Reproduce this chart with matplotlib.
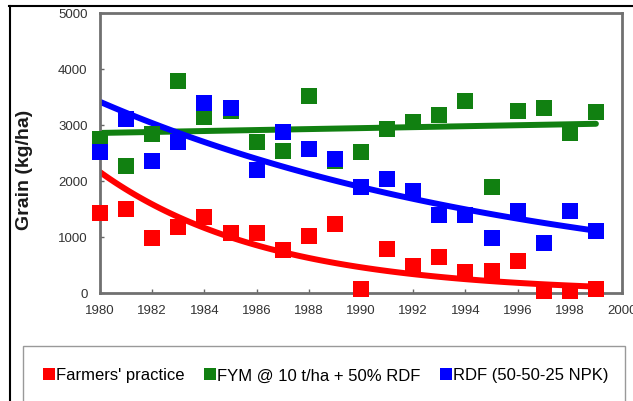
import numpy as np
import matplotlib
matplotlib.use('Agg')
import matplotlib.pyplot as plt
from matplotlib.lines import Line2D
from matplotlib.patches import Rectangle

plt.rcParams['font.family'] = ['Liberation Sans', 'DejaVu Sans']

years = np.arange(1980, 2000)
farmers = [1420, 1500, 990, 1170, 1350, 1080, 1080, 760, 1020, 1240,
           80, 790, 490, 640, 370, 400, 580, 40, 40, 80]
fym = [2750, 2270, 2840, 3790, 3140, 3250, 2690, 2540, 3520, 2350,
       2520, 2930, 3060, 3180, 3430, 1900, 3250, 3300, 2860, 3230]
rdf = [2510, 3110, 2350, 2700, 3400, 3310, 2200, 2870, 2570, 2400,
       1890, 2030, 1830, 1390, 1390, 990, 1470, 900, 1470, 1100]

labels = ["Farmers' practice", "FYM @ 10 t/ha + 50% RDF", "RDF (50-50-25 NPK)"]
colors = ['#ff0000', '#118011', '#0000ff']

fig = plt.figure(figsize=(6.33, 4.02), dpi=100)
ax = fig.add_axes([100/633, 1 - 294/402, 522/633, 280/402])

# trend lines like excel: exponential for red/blue, linear for green
xs = np.linspace(1980, 1999, 100)
for vals, c, kind in zip([farmers, fym, rdf], colors, ['exp', 'lin', 'exp']):
    v = np.array(vals, dtype=float)
    if kind == 'exp':
        b, a = np.polyfit(years - 1980, np.log(v), 1)
        trend = np.exp(a + b * (xs - 1980))
    else:
        b, a = np.polyfit(years - 1980, v, 1)
        trend = a + b * (xs - 1980)
    ax.plot(xs, trend, color=c, lw=4.3, solid_capstyle='round', zorder=2)
    ax.plot(years, v, 's', color=c, ms=12, mew=0, zorder=3, clip_on=False)

ax.set_xlim(1980, 2000)
ax.set_ylim(0, 5000)
ax.set_xticks(range(1980, 2001, 2))
ax.set_yticks(range(0, 5001, 1000))
ax.tick_params(labelsize=9.5, colors='#666666', labelcolor='#333333',
               direction='in', length=3, width=1)
ax.tick_params(axis='y', pad=9)
ax.tick_params(axis='x', pad=8)
for s in ax.spines.values():
    s.set_color('#707070')
    s.set_linewidth(2)
ax.set_ylabel('Grain (kg/ha)', fontsize=14, fontweight='bold', color='#1a1a1a')
ax.yaxis.set_label_coords(-67/522, (294 - 170) / 280)

# outer frame lines
fig.add_artist(Line2D([9/633, 1], [1 - 6.5/402, 1 - 6.5/402], color='black', lw=1.5))
fig.add_artist(Line2D([10/633, 10/633], [0, 1 - 6.5/402], color='black', lw=1.5))

# legend box
fig.add_artist(Rectangle((22.5/633, -0.01), 602/633, 1 - 347/402 + 0.01,
                         fill=False, edgecolor='#999999', lw=1))
handles = [Line2D([], [], marker='s', ls='', color=c, ms=8, mew=0) for c in colors]
fig.legend(handles, labels, loc='center', bbox_to_anchor=(326/633, 1 - 376/402),
           ncol=3, frameon=False, fontsize=12, handletextpad=0.1,
           columnspacing=1.15, handlelength=0.7)

fig.savefig('out.png', dpi=100)
